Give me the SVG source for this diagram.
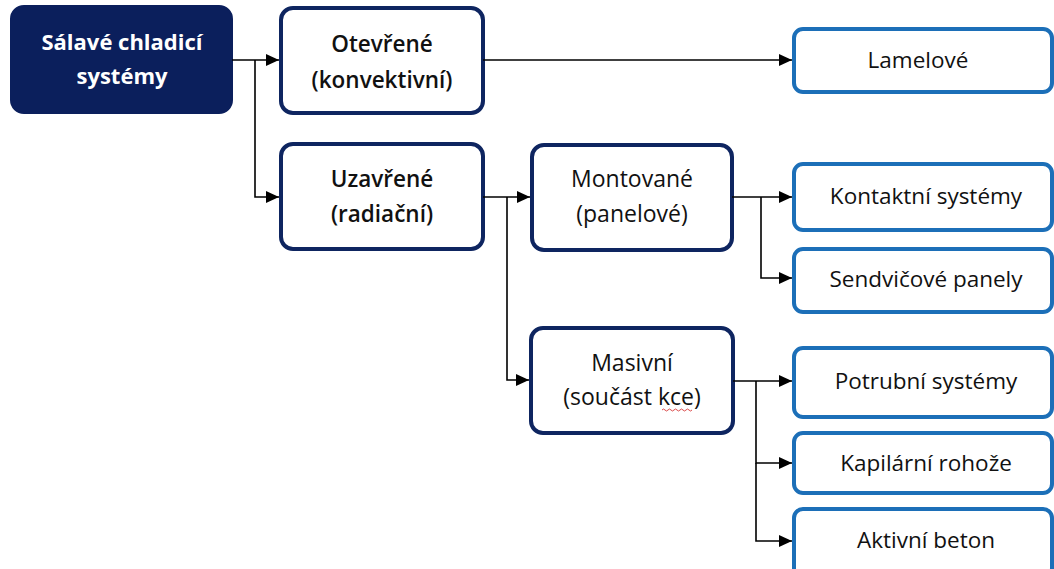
<svg xmlns="http://www.w3.org/2000/svg" width="1054" height="569" viewBox="0 0 1054 569">
<defs>
<marker id="arr" markerUnits="userSpaceOnUse" markerWidth="14" markerHeight="12" refX="13" refY="6" orient="auto">
<path d="M0,0 L13,6 L0,12 z" fill="#000"/>
</marker>
<style>
.dark{fill:#fff;stroke:#0e2560;stroke-width:4}
.root{fill:#0b1f5c;stroke:#0b1f5c;stroke-width:2}
.light{fill:#fff;stroke:#1c6fb8;stroke-width:4}
text{font-family:"Open Sans","Noto Sans","Liberation Sans",sans-serif;font-size:23px;fill:#111;text-anchor:middle}
.rt{fill:#fff;font-weight:bold;font-size:22px}
.bt{font-weight:600;font-size:22.5px}
.lt{font-size:22.5px}
.conn path{fill:none;stroke:#000;stroke-width:1.6}
</style>
</defs>
<rect width="1054" height="569" fill="#fff"/>
<g id="n-root">
<rect class="root" x="11" y="6" width="221" height="107" rx="13"/>
<text class="rt" x="122" y="50">Sálavé chladicí</text>
<text class="rt" x="122" y="84">systémy</text>
</g>
<g id="n-otevrene">
<rect class="dark" x="281" y="8" width="202" height="105" rx="12"/>
<text class="bt" x="382" y="52">Otevřené</text>
<text class="bt" x="382" y="88">(konvektivní)</text>
</g>
<g id="n-uzavrene">
<rect class="dark" x="281" y="144" width="202" height="105" rx="12"/>
<text class="bt" x="382" y="187">Uzavřené</text>
<text class="bt" x="382" y="222">(radiační)</text>
</g>
<g id="n-montovane">
<rect class="dark" x="532" y="145" width="200" height="105" rx="12"/>
<text x="632" y="187">Montované</text>
<text x="632" y="222">(panelové)</text>
</g>
<g id="n-masivni">
<rect class="dark" x="531" y="328" width="202" height="105" rx="12"/>
<text x="632" y="371">Masivní</text>
<text x="632" y="405">(součást kce)</text>
<path d="M662,410 q1.5,-2 3,0 t3,0 t3,0 t3,0 t3,0 t3,0 t3,0 t3,0 t3,0 t3,0" fill="none" stroke="#d02020" stroke-width="0.8"/>
</g>
<g id="n-lamelove">
<rect class="light" x="794" y="29" width="258" height="63" rx="9"/>
<text class="lt" x="918" y="68">Lamelové</text>
</g>
<g id="n-kontaktni">
<rect class="light" x="794" y="164" width="258" height="66" rx="9"/>
<text class="lt" x="926" y="204">Kontaktní systémy</text>
</g>
<g id="n-sendvicove">
<rect class="light" x="794" y="249" width="258" height="63" rx="9"/>
<text class="lt" x="926" y="287">Sendvičové panely</text>
</g>
<g id="n-potrubni">
<rect class="light" x="794" y="348" width="258" height="69" rx="9"/>
<text class="lt" x="926" y="389">Potrubní systémy</text>
</g>
<g id="n-kapilarni">
<rect class="light" x="794" y="433" width="258" height="60" rx="9"/>
<text class="lt" x="926" y="471">Kapilární rohože</text>
</g>
<g id="n-aktivni">
<rect class="light" x="794" y="509" width="258" height="68" rx="9"/>
<text class="lt" x="926" y="548">Aktivní beton</text>
</g>
<g id="connectors" class="conn">
<path d="M232,60 H279" marker-end="url(#arr)"/>
<path d="M255,60 V197 H279" marker-end="url(#arr)"/>
<path d="M483,60 H792" marker-end="url(#arr)"/>
<path d="M483,197 H530" marker-end="url(#arr)"/>
<path d="M507,197 V380 H529" marker-end="url(#arr)"/>
<path d="M732,197 H792" marker-end="url(#arr)"/>
<path d="M761,197 V278 H792" marker-end="url(#arr)"/>
<path d="M733,381 H792" marker-end="url(#arr)"/>
<path d="M756,381 V463 H792" marker-end="url(#arr)"/>
<path d="M756,463 V541 H792" marker-end="url(#arr)"/>
</g>
</svg>
